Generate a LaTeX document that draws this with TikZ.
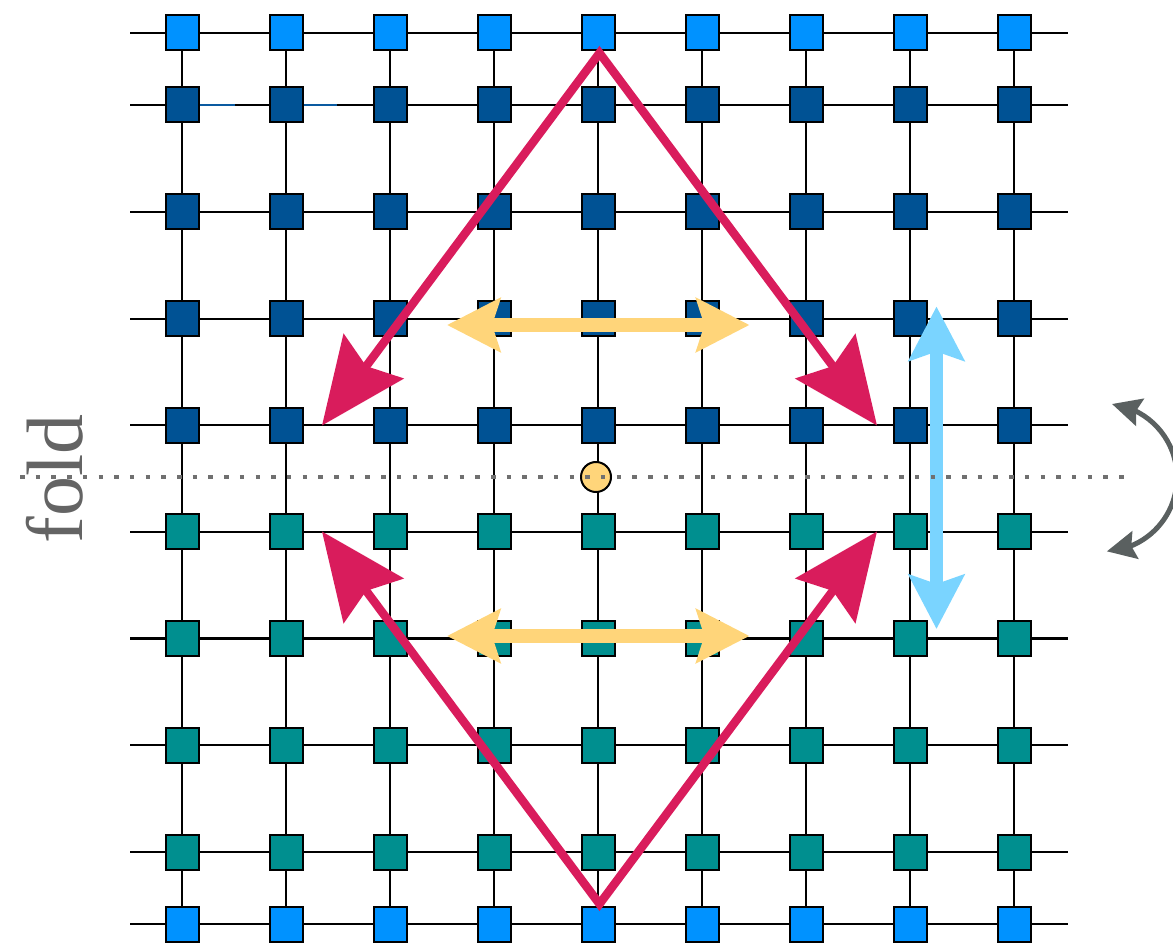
\documentclass[tikz,border=0pt]{standalone}
\usepackage{fontspec}
\newfontfamily\foldfont{Liberation Serif}
\usetikzlibrary{arrows.meta,bending,backgrounds}
\definecolor{lblue}{RGB}{0,146,255}
\definecolor{dblue}{RGB}{0,82,148}
\definecolor{tealA}{RGB}{0,143,143}
\definecolor{ylw}{RGB}{255,213,122}
\definecolor{redA}{RGB}{217,28,92}
\definecolor{skyA}{RGB}{122,212,255}
\definecolor{grayA}{RGB}{90,96,96}
\definecolor{dotgray}{RGB}{112,112,112}
\definecolor{textgray}{RGB}{100,100,100}
\definecolor{segblue}{RGB}{10,90,160}
\begin{document}
\begin{tikzpicture}[x=1pt,y=-1pt,
  sq/.style={draw=black,line width=2pt,minimum width=33pt,minimum height=35pt,inner sep=0pt},
  gridline/.style={line width=2.4pt,black},
  redline/.style={draw=redA,line width=8.5pt,line join=miter,
     arrows={Stealth[length=86pt,width=74pt,inset=12pt]-Stealth[length=86pt,width=74pt,inset=12pt]}},
  ylwline/.style={draw=ylw,line width=13.5pt,
     arrows={Stealth[length=53pt,width=53pt,inset=8pt]-Stealth[length=53pt,width=53pt,inset=8pt]}},
  skyline/.style={draw=skyA,line width=13pt,
     arrows={Stealth[length=54pt,width=55pt,inset=9pt]-Stealth[length=54pt,width=55pt,inset=9pt]}},
  foldline/.style={draw=dotgray,line width=4.5pt,dash pattern=on 4.5pt off 11.2pt},
  turnarrow/.style={draw=grayA,line width=5pt,
     arrows={Stealth[length=29pt,width=28pt,inset=4pt]-Stealth[length=29pt,width=28pt,inset=4pt]}}
]
\useasboundingbox (0,0) rectangle (1173,944);
\clip (0,0) rectangle (1173,944);
% squares
\foreach \y/\c [count=\r] in {33/lblue,105/dblue,212/dblue,318.7/dblue,425.2/dblue,531.8/tealA,638.3/tealA,745/tealA,852/tealA,924/lblue} {
  \coordinate (L\r) at (130,\y);
  \coordinate (R\r) at (1068,\y);
  \foreach \i in {1,...,9} {
    \node[sq,fill=\c] (n\i-\r) at ({182+104*(\i-1)},\y) {};
  }
}
% centre circle
\node[circle,draw=black,line width=2pt,fill=ylw,minimum size=30pt,inner sep=0pt] (mid) at (596,477) {};
\coordinate (s1) at (235,105);
\coordinate (s2) at (337,105);
\begin{pgfonlayer}{background}
  \foreach \r in {1,...,10} \draw[gridline] (L\r) -- (R\r);
  \foreach \i in {1,...,9} \draw[gridline] (n\i-1.center) -- (n\i-10.center);
  \draw[gridline,segblue] (n1-2.east) -- (s1);
  \draw[gridline,segblue] (n2-2.east) -- (s2);
\end{pgfonlayer}
% light blue vertical arrow
\coordinate (bT) at (936.5,306.5);
\coordinate (bB) at (936.5,629);
\draw[skyline] (bT) -- (bB);
% yellow arrows
\coordinate (y1L) at (447,325);
\coordinate (y1R) at (749.5,325);
\coordinate (y2L) at (447,636);
\coordinate (y2R) at (749.5,636);
\draw[ylwline] (y1L) -- (y1R);
\draw[ylwline] (y2L) -- (y2R);
% red arrows
\coordinate (aT) at (599.5,53);
\coordinate (tTL) at (322,425.5);
\coordinate (tTR) at (877,425.5);
\coordinate (aB) at (599.5,904);
\coordinate (tBL) at (322,531.5);
\coordinate (tBR) at (877,531.5);
\draw[redline] (tTL) -- (aT) -- (tTR);
\draw[redline] (tBL) -- (aB) -- (tBR);
% fold line
\coordinate (f1) at (20,477);
\coordinate (f2) at (1126,477);
\draw[foldline] (f1) -- (f2);
\node[rotate=90,anchor=base,text=textgray,font=\foldfont\fontsize{80}{82}\selectfont,inner sep=0pt] (foldtxt) at (82,479) {fold};
% turn arrow
\coordinate (g1) at (1112,404);
\draw[turnarrow] (g1) arc[start angle=-83,end angle=87,radius=74];
\end{tikzpicture}
\end{document}
